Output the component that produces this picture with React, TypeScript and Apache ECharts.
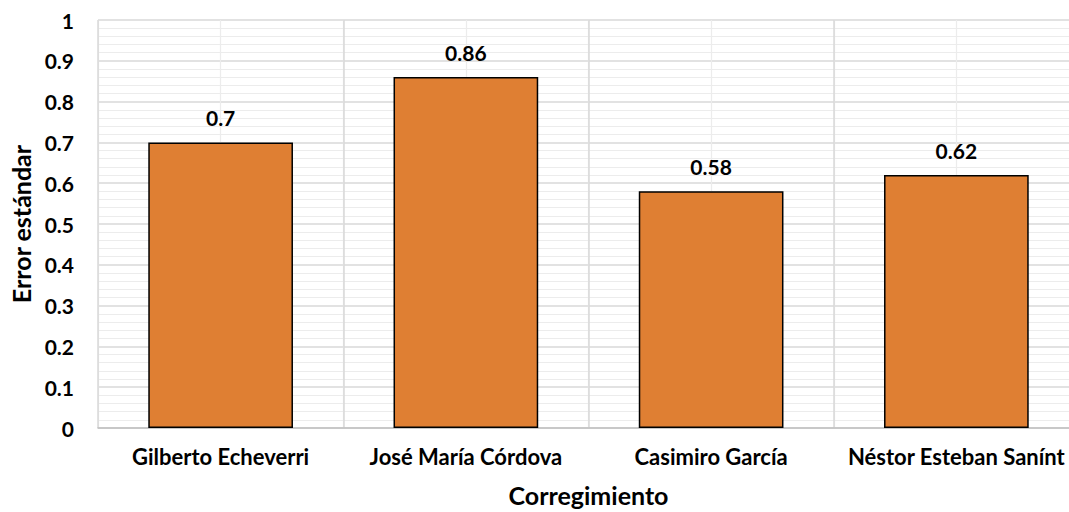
import React, { useEffect, useRef } from "react";
import * as echarts from "echarts";

const categories = ["Gilberto Echeverri", "José María Córdova", "Casimiro García", "Néstor Esteban Sanínt"];
const values = [0.7, 0.86, 0.58, 0.62];
const halfSlots = ["", "", "", "", "", "", "", ""];
const yTitle = "Error estándar";
const xTitle = "Corregimiento";

const FONT = "Lato, 'Open Sans', sans-serif";

export default function App() {
  const ref = useRef<HTMLDivElement>(null);
  useEffect(() => {
    if (!ref.current) return;
    const chart = echarts.init(ref.current, null, { renderer: "svg" });
    chart.setOption({
      animation: false,
      backgroundColor: "#ffffff",
      textStyle: { fontFamily: FONT },
      grid: { left: 97, right: 1, top: 20, bottom: 81 },
      xAxis: [
        {
          type: "category",
          data: categories,
          boundaryGap: true,
          axisLine: { show: true, lineStyle: { color: "#bfbfbf", width: 1.5 } },
          axisTick: { show: false },
          axisLabel: { color: "#000", fontWeight: "bold", fontSize: 22, fontFamily: FONT, margin: 17, interval: 0 },
          splitLine: { show: true, lineStyle: { color: "#d9d9d9", width: 1.5 } },
          name: xTitle,
          nameLocation: "middle",
          nameGap: 54,
          nameTextStyle: { color: "#000", fontWeight: "bold", fontSize: 25, fontFamily: FONT },
          z: 3,
        },
        {
          type: "category",
          data: halfSlots,
          boundaryGap: true,
          position: "bottom",
          axisLine: { show: false },
          axisTick: { show: false },
          axisLabel: { show: false },
          splitLine: { show: true, lineStyle: { color: "#ececec", width: 1.2 } },
          z: 1,
        },
      ],
      yAxis: {
        type: "value",
        min: 0,
        max: 1,
        interval: 0.1,
        axisLine: { show: false },
        axisTick: { show: false },
        axisLabel: { color: "#000", fontWeight: "bold", fontSize: 21, fontFamily: FONT, margin: 24 },
        splitLine: { show: true, lineStyle: { color: "#d9d9d9", width: 1.5 } },
        minorTick: { show: false, splitNumber: 5 },
        minorSplitLine: { show: true, lineStyle: { color: "#ececec", width: 1.2 } },
        name: yTitle,
        nameLocation: "middle",
        nameGap: 65,
        nameRotate: 90,
        nameTextStyle: { color: "#000", fontWeight: "bold", fontSize: 25, fontFamily: FONT },
      },
      series: [
        {
          type: "bar",
          data: values,
          barWidth: "59%",
          xAxisIndex: 0,
          itemStyle: { color: "#df7f33", borderColor: "#000", borderWidth: 1.5 },
          label: {
            show: true,
            position: "top",
            distance: 14,
            color: "#000",
            fontWeight: "bold",
            fontSize: 21,
            fontFamily: FONT,
          },
          z: 5,
        },
      ],
    });
    return () => chart.dispose();
  }, []);
  return (
    <div style={{ position: "fixed", left: 0, top: 0, width: 1069, height: 512, overflow: "hidden", background: "#fff" }}>
      <div ref={ref} style={{ width: 1080, height: 512 }} />
    </div>
  );
}
